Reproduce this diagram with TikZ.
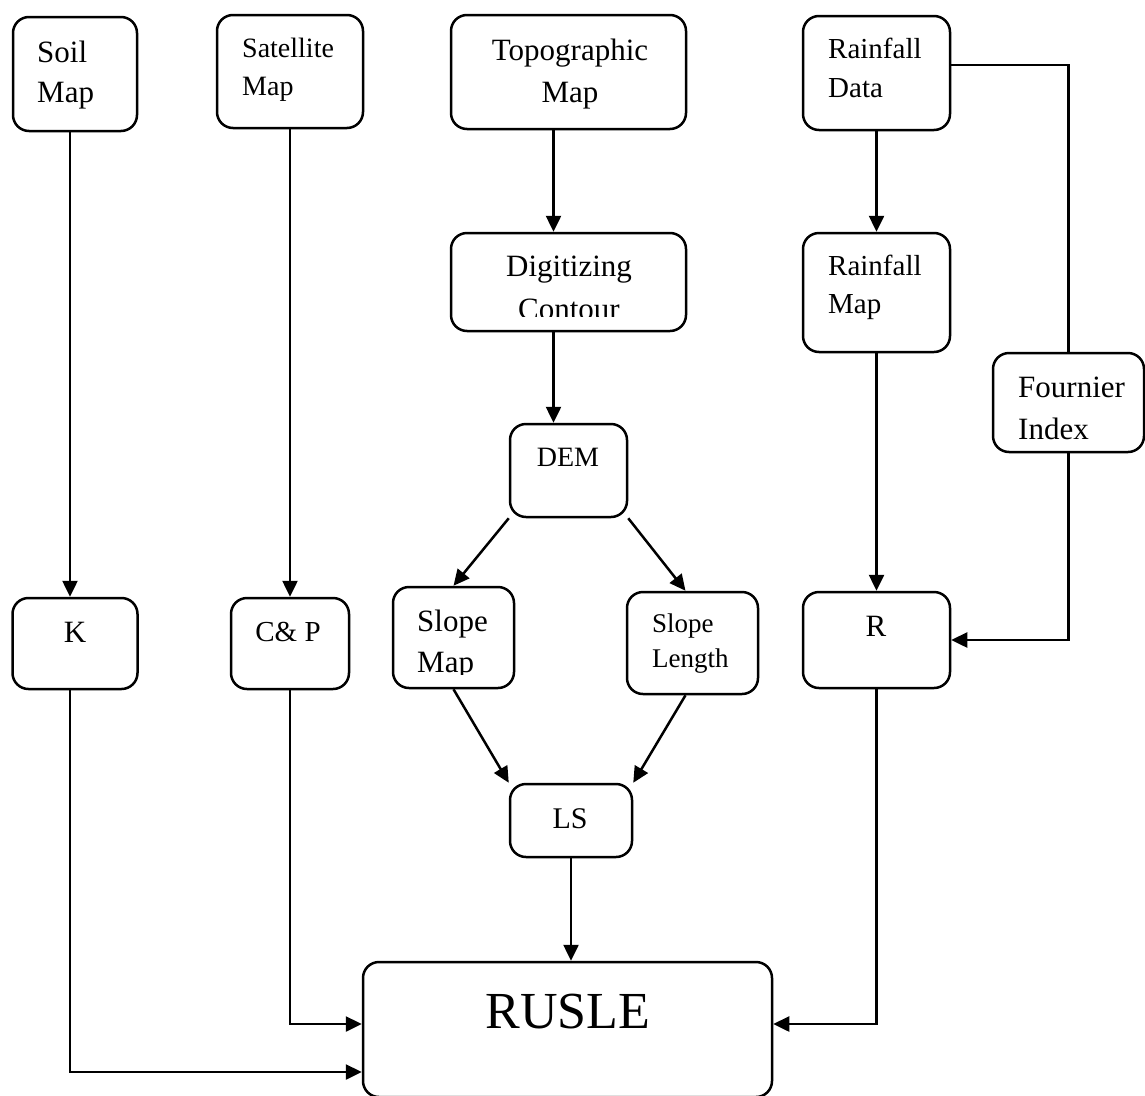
\documentclass[tikz,border=0pt]{standalone}
\usepackage{fontspec}
\setmainfont{Liberation Serif}
\usetikzlibrary{arrows.meta}

\begin{document}
\begin{tikzpicture}[x=1pt, y=-1pt,
        manifest/.style={rectangle, draw, line width=2.5pt, rounded corners=16pt, inner sep=0pt},
        txt/.style={inner sep=0pt, align=left},
        paths/.style={line width=2.5pt, -{Triangle[length=16pt,width=15pt]}},
        link/.style={line width=2.5pt}
    ]
    \useasboundingbox (0,0) rectangle (1145,1095);

    % Boxes
    \node[manifest, minimum width=124pt, minimum height=114pt] (soil) at (75,74) {};
    \node[manifest, minimum width=146pt, minimum height=113pt] (sat) at (290,71.5) {};
    \node[manifest, minimum width=235pt, minimum height=114pt] (topo) at (568.5,72) {};
    \node[manifest, minimum width=147pt, minimum height=114pt] (rdata) at (876.5,73) {};
    \node[manifest, minimum width=235pt, minimum height=98pt] (digit) at (568.5,282) {};
    \node[manifest, minimum width=147pt, minimum height=119pt] (rmap) at (876.5,292.5) {};
    \node[manifest, minimum width=151pt, minimum height=99pt] (four) at (1068.5,402.5) {};
    \node[manifest, minimum width=117pt, minimum height=93pt] (dem) at (568.5,470.5) {};
    \node[manifest, minimum width=125pt, minimum height=91pt] (k) at (75,643.5) {};
    \node[manifest, minimum width=118pt, minimum height=91pt] (cp) at (290,643.5) {};
    \node[manifest, minimum width=121pt, minimum height=101pt] (smap) at (453.5,637.5) {};
    \node[manifest, minimum width=131pt, minimum height=102pt] (slen) at (692.5,643) {};
    \node[manifest, minimum width=147pt, minimum height=96pt] (r) at (876.5,640) {};
    \node[manifest, minimum width=122pt, minimum height=73pt] (ls) at (571,820.5) {};
    \node[manifest, minimum width=409pt, minimum height=135pt] (rusle) at (567.5,1029.5) {};

    % Texts (anchored on the baseline of the last line)
    \node[txt, font=\fontsize{31}{40}\selectfont, anchor=base west] (soil-t) at (37,102) {Soil\\Map};
    \node[txt, font=\fontsize{28}{38}\selectfont, anchor=base west] (sat-t) at (242,95) {Satellite\\Map};
    \node[txt, align=center, font=\fontsize{31}{42}\selectfont, anchor=base] (topo-t) at (570,102) {Topographic\\Map};
    \node[txt, font=\fontsize{29}{39}\selectfont, anchor=base west] (rdata-t) at (828,97) {Rainfall\\Data};
    \begin{scope}
        \clip (digit.north west) rectangle ([yshift=16pt]digit.south east);
        \node[txt, align=center, font=\fontsize{31}{43}\selectfont, anchor=base] (digit-t) at (569,319) {Digitizing\\Contour};
    \end{scope}
    \node[txt, font=\fontsize{29}{38}\selectfont, anchor=base west] (rmap-t) at (828,313) {Rainfall\\Map};
    \node[txt, font=\fontsize{31}{42}\selectfont, anchor=base west] (four-t) at (1018,439) {Fournier\\Index};
    \node[txt, font=\fontsize{28}{34}\selectfont, anchor=base] (dem-t) at (568,466) {DEM};
    \node[txt, font=\fontsize{31}{38}\selectfont, anchor=base] (k-t) at (75,642) {K};
    \node[txt, font=\fontsize{29}{36}\selectfont, anchor=base] (cp-t) at (288,641) {C\& P};
    \begin{scope}
        \clip (smap.north west) rectangle ([yshift=15pt]smap.south east);
        \node[txt, font=\fontsize{31}{41}\selectfont, anchor=base west] (smap-t) at (417,672) {Slope\\Map};
    \end{scope}
    \node[txt, font=\fontsize{27}{35}\selectfont, anchor=base west] (slen-t) at (652,667) {Slope\\Length};
    \node[txt, font=\fontsize{31}{38}\selectfont, anchor=base] (r-t) at (876,636) {R};
    \node[txt, font=\fontsize{30}{36}\selectfont, anchor=base] (ls-t) at (570,828) {LS};
    \node[txt, font=\fontsize{52}{62}\selectfont, anchor=base] (rusle-t) at (568,1028) {RUSLE};

    % Paths
    \draw[paths] ([xshift=-5pt]soil.south) -- ([xshift=-5pt]k.north);
    \draw[paths] (sat.south) -- (cp.north);
    \draw[paths] ([xshift=-15pt]topo.south) -- ([xshift=-15pt]digit.north);
    \draw[paths] ([xshift=-15pt]digit.south) -- ([xshift=-15pt]dem.north);
    \draw[paths] (rdata.south) -- (rmap.north);
    \draw[paths] (rmap.south) -- (r.north);
    \draw[link] ([yshift=8pt]rdata.east) -| (four.north);
    \draw[paths] (four.south) |- (r.east);
    \draw[paths] (dem.south west) -- (smap.north);
    \draw[paths] (dem.south east) -- ([xshift=-7pt]slen.north);
    \draw[paths] (smap.south) -- (ls.north west);
    \draw[paths] ([xshift=-7pt]slen.south) -- (ls.north east);
    \draw[paths] (ls.south) -- (ls.south |- rusle.north);
    \draw[paths] ([xshift=-5pt]k.south) |- ([yshift=-42.5pt]rusle.west);
    \draw[paths] (cp.south) |- ([yshift=5.5pt]rusle.west);
    \draw[paths] (r.south) |- ([yshift=5.5pt]rusle.east);

\end{tikzpicture}
\end{document}
